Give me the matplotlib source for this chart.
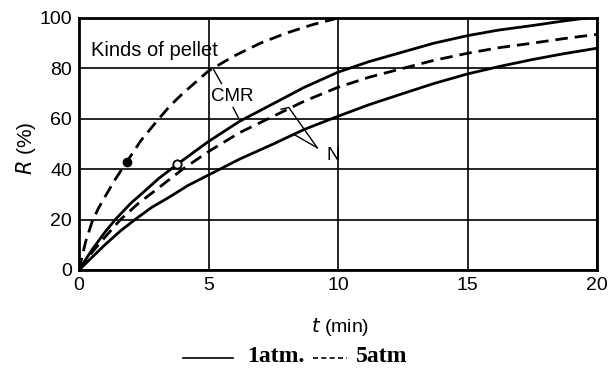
import matplotlib
matplotlib.use("Agg")
import matplotlib.pyplot as plt
from matplotlib.lines import Line2D

# ---- data ----
t_cmr5 = [0, 0.25, 0.5, 0.75, 1.0, 1.4, 1.85, 2.4, 3.0, 3.5, 4.0, 4.5, 5.0, 6.0, 7.0, 8.0, 9.0, 10.0]
R_cmr5 = [0, 11, 19, 24.5, 29, 36, 43, 51.5, 59, 65, 70, 74.5, 79, 85, 90, 94, 97.3, 100]

t_cmr1 = [0, 0.5, 1.0, 1.4, 2.0, 2.5, 3.1, 3.8, 4.4, 5.0, 6.2, 7.5, 8.7, 10.0, 11.2, 12.5, 13.7, 15.0, 16.2, 17.5, 18.7, 20.0]
R_cmr1 = [0, 8, 15, 20, 26.5, 31, 36.5, 42, 46.5, 51, 59, 66, 72.5, 78.5, 82.7, 86.5, 90, 93, 95.2, 97, 98.8, 100.5]

t_n5 = [0, 0.5, 1.0, 1.6, 2.3, 3.0, 3.5, 4.0, 4.5, 5.0, 6.2, 7.5, 8.7, 10.0, 11.2, 12.5, 13.7, 15.0, 16.2, 17.5, 18.7, 20.0]
R_n5 = [0, 7, 13, 20, 26.5, 32, 36, 40, 43.5, 47, 54.5, 61, 67, 72.5, 76.5, 80, 83.2, 86, 88.2, 90, 91.8, 93.5]

t_n1 = [0, 1.0, 1.6, 2.16, 2.8, 3.5, 4.2, 5.0, 6.2, 7.5, 8.7, 10.0, 11.2, 12.5, 13.7, 15.0, 16.2, 17.5, 18.7, 20.0]
R_n1 = [0, 10, 15.5, 20, 24.8, 29, 33.5, 37.7, 44, 50, 55.8, 61, 65.6, 70, 74, 77.8, 80.7, 83.5, 85.8, 88]

filled_pt = (1.85, 43)
open_pt = (3.8, 42)

xticks = [0, 5, 10, 15, 20]
yticks = [0, 20, 40, 60, 80, 100]

plt.rcParams['font.family'] = ['Liberation Sans', 'DejaVu Sans']

fig = plt.figure(figsize=(6.09, 3.69), dpi=100)
ax = fig.add_axes([79/609, 1-270/369, (597-79)/609, (270-18)/369])

lw = 2.0
dash = (0, (4.5, 2.5))
ax.plot(t_cmr5, R_cmr5, color='black', lw=lw, linestyle=dash)
ax.plot(t_cmr1, R_cmr1, color='black', lw=lw)
ax.plot(t_n5, R_n5, color='black', lw=lw, linestyle=dash)
ax.plot(t_n1, R_n1, color='black', lw=lw)

ax.plot([filled_pt[0]], [filled_pt[1]], 'o', color='black', ms=6)
ax.plot([open_pt[0]], [open_pt[1]], 'o', mfc='white', mec='black', mew=1.3, ms=6)

ax.set_xlim(0, 20)
ax.set_ylim(0, 100)
ax.set_xticks(xticks)
ax.set_yticks(yticks)
ax.tick_params(length=0, labelsize=14, pad=5)
ax.grid(True, color='black', lw=1.2)
for s in ax.spines.values():
    s.set_linewidth(2.0)

# annotations
ax.text(0.45, 87, 'Kinds of pellet', fontsize=14.5, va='center', ha='left')
ax.text(5.9, 69, 'CMR', fontsize=13.5, va='center', ha='center')
ax.plot([5.2, 5.5], [79.5, 74], color='black', lw=1.0)
ax.plot([5.95, 6.15], [64.5, 60.5], color='black', lw=1.0)
ax.text(9.8, 45.5, 'N', fontsize=13.5, va='center', ha='center')
ax.plot([7.8, 8.1, 9.2], [63.8, 64.5, 48.5], color='black', lw=1.0)
ax.plot([8.35, 9.2], [53.5, 48.5], color='black', lw=1.0)

fig.text(26/609, 1-148/369, r'$R$ (%)', fontsize=15, rotation=90, ha='center', va='center')
fig.text(340/609, 1-327/369, r'$t$ (min)', fontsize=14, ha='center', va='center')

# legend drawn as text and lines
fig.add_artist(Line2D([183/609, 233/609], [1-358/369]*2, color='black', lw=1.2))
fig.text(247/609, 1-356/369, '1atm.', fontsize=17, fontweight='bold',
         family='Liberation Serif', ha='left', va='center')
fig.add_artist(Line2D([313/609, 347/609], [1-358/369]*2, color='black', lw=1.2,
                      linestyle=(0, (3, 2))))
fig.text(356/609, 1-356/369, '5atm', fontsize=17, fontweight='bold',
         family='Liberation Serif', ha='left', va='center')

fig.savefig('out.png', dpi=100)
